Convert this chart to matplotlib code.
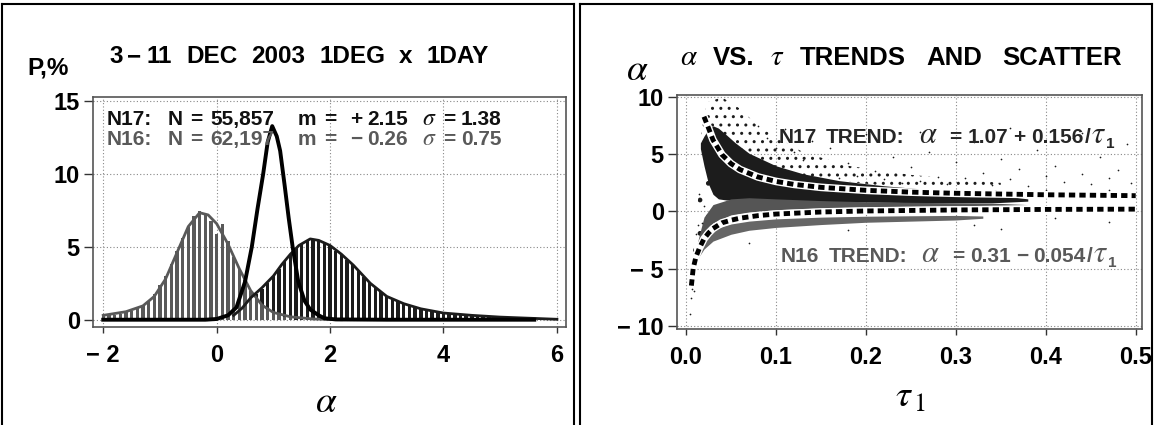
import numpy as np
import matplotlib.pyplot as plt
from matplotlib.lines import Line2D

plt.rcParams['font.family'] = 'Liberation Sans'
plt.rcParams['mathtext.fontset'] = 'stix'
plt.rcParams['hatch.linewidth'] = 1.0

W, H = 1154, 425

# ---- left panel: histograms of alpha ----
n17_centers = np.round(np.arange(0.5, 5.51, 0.1), 2)
n17_bars = [0.6, 1.3, 1.8, 2.1, 2.5, 3.0, 3.5, 4.0, 4.5, 4.9, 5.2, 5.45, 5.5, 5.45, 5.3,
            5.05, 4.75, 4.45, 4.1, 3.75, 3.35, 2.95, 2.5, 2.2, 1.9, 1.65, 1.45, 1.25, 1.1,
            0.98, 0.85, 0.75, 0.66, 0.58, 0.51, 0.46, 0.42, 0.38, 0.34, 0.31, 0.29, 0.26,
            0.24, 0.22, 0.2, 0.18, 0.16, 0.14, 0.12, 0.11, 0.1]
n16_centers = np.round(np.arange(-2.0, 1.31, 0.1), 2)
n16_bars = [0.25, 0.3, 0.35, 0.4, 0.5, 0.6, 0.8, 1.0, 1.3, 1.8, 2.4, 3.0, 3.8, 4.7, 5.6,
            6.4, 7.1, 7.5, 7.2, 6.8, 5.9, 6.6, 5.4, 4.3, 3.5, 2.7, 2.0, 1.5, 1.0, 0.7, 0.5,
            0.3, 0.2, 0.1]

n17_curve_x = [0.3, 0.45, 0.6, 0.8, 1.0, 1.15, 1.3, 1.45, 1.65, 1.8, 2.0, 2.2, 2.41, 2.71,
               3.0, 3.3, 3.6, 4.0, 4.5, 5.0, 5.6, 6.0]
n17_curve_y = [0.3, 0.8, 1.5, 2.2, 3.0, 3.8, 4.5, 5.1, 5.55, 5.45, 5.1, 4.5, 3.75, 2.5,
               1.6, 1.1, 0.75, 0.46, 0.3, 0.18, 0.09, 0.03]
n16_curve_x = [-2.0, -1.6, -1.3, -1.1, -0.9, -0.7, -0.5, -0.3, -0.15, 0.0, 0.2, 0.4, 0.6,
               0.8, 1.0, 1.3, 1.7, 2.2]
n16_curve_y = [0.3, 0.55, 0.95, 1.6, 2.8, 4.6, 6.4, 7.35, 7.2, 6.6, 5.2, 3.5, 2.0, 1.0,
               0.5, 0.2, 0.05, 0.0]
diff_curve_x = [-2.0, -1.0, -0.2, 0.0, 0.2, 0.35, 0.5, 0.62, 0.72, 0.82, 0.9, 0.98, 1.06,
                1.12, 1.2, 1.27, 1.34, 1.44, 1.55, 1.65, 1.8, 1.9, 2.1, 3.0, 4.0, 5.0, 5.6]
diff_curve_y = [0.0, 0.0, 0.0, 0.05, 0.3, 0.85, 2.6, 5.0, 7.6, 10.0, 12.2, 13.3, 12.6,
                11.6, 9.2, 7.0, 5.0, 2.6, 1.3, 0.7, 0.3, 0.1, 0.02, 0.0, 0.0, 0.0, 0.0]

left_xticks = [-2, 0, 2, 4, 6]
left_xlabels = ['\u2212 2', '0', '2', '4', '6']
left_yticks = [0, 5, 10, 15]

# ---- right panel: alpha vs tau ----
tr17_tau = [0.02, 0.025, 0.03, 0.04, 0.05, 0.06, 0.08, 0.1, 0.12, 0.15, 0.2, 0.25, 0.3, 0.4, 0.5]
tr17_alpha = [8.3, 7.31, 6.27, 4.97, 4.19, 3.67, 3.02, 2.63, 2.37, 2.11, 1.85, 1.69, 1.59, 1.46, 1.38]
tr16_tau = [0.006, 0.008, 0.011, 0.015, 0.02, 0.025, 0.03, 0.04, 0.05, 0.06, 0.08, 0.1, 0.15, 0.2, 0.3, 0.4, 0.5]
tr16_alpha = [-6.5, -5.0, -4.0, -3.2, -2.4, -1.9, -1.5, -1.0, -0.77, -0.59, -0.37, -0.23, -0.05, 0.04, 0.13, 0.175, 0.2]

# dense N17 cloud (dark)
d_tau = [0.016, 0.02, 0.025, 0.03, 0.036, 0.045, 0.055, 0.07, 0.1, 0.13, 0.17, 0.22, 0.28, 0.34, 0.38]
d_low = [5.5, 4.0, 2.4, 1.5, 1.1, 1.0, 1.0, 1.0, 0.95, 0.9, 0.85, 0.8, 0.75, 0.75, 0.9]
d_up = [6.0, 6.6, 7.2, 7.5, 7.3, 6.7, 6.0, 5.1, 4.0, 3.3, 2.7, 2.25, 1.85, 1.5, 1.1]
# N16 cloud between the two trends (gray)
g1_tau = [0.012, 0.015, 0.02, 0.03, 0.05, 0.07, 0.1, 0.15, 0.2, 0.25, 0.3, 0.35, 0.38]
g1_low = [-3.2, -2.6, -1.8, -1.0, -0.3, -0.05, 0.15, 0.3, 0.4, 0.45, 0.5, 0.55, 0.6]
g1_up = [-3.0, -2.0, -0.5, 0.6, 1.1, 1.2, 1.1, 0.95, 0.85, 0.8, 0.75, 0.7, 0.6]
# N16 cloud below its trend (gray)
g2_tau = [0.008, 0.012, 0.015, 0.02, 0.03, 0.05, 0.07, 0.1, 0.15, 0.2, 0.25, 0.3, 0.33]
g2_up = [-5.5, -3.6, -2.9, -2.3, -1.6, -1.1, -0.85, -0.65, -0.5, -0.42, -0.38, -0.35, -0.4]
g2_low = [-5.5, -4.4, -3.9, -3.3, -2.6, -2.0, -1.65, -1.4, -1.15, -0.95, -0.85, -0.75, -0.6]
# sparse halo above the dense cloud
s_tau = [0.017, 0.025, 0.04, 0.06, 0.08, 0.1, 0.13, 0.18, 0.25, 0.35]
s_low = [6.0, 6.5, 6.8, 5.6, 4.6, 3.9, 3.2, 2.6, 2.0, 1.5]
s_up = [8.0, 9.6, 10.0, 9.0, 7.5, 6.5, 5.2, 4.0, 3.2, 2.5]
# sparse spread at the smallest tau
e_tau = [0.006, 0.01, 0.015, 0.02, 0.028]
e_low = [-7.0, -4.5, -3.0, -1.5, 0.5]
e_up = [-6.0, -1.0, 2.0, 4.5, 5.0]

# scattered single points
pt_tau = [0.16, 0.18, 0.19, 0.21, 0.22, 0.23, 0.24, 0.25, 0.26, 0.27, 0.28, 0.29, 0.30,
          0.31, 0.32, 0.33, 0.34, 0.35, 0.36, 0.37, 0.38, 0.39, 0.40, 0.41, 0.42, 0.43,
          0.44, 0.45, 0.46, 0.47, 0.48, 0.49, 0.495, 0.17, 0.20, 0.26, 0.36, 0.44, 0.30,
          0.33, 0.40, 0.47, 0.12, 0.13, 0.14, 0.10, 0.11, 0.08, 0.09, 0.07, 0.18, 0.32,
          0.41, 0.35, 0.47, 0.005, 0.006, 0.007, 0.008, 0.009, 0.010, 0.012, 0.014,
          0.016, 0.011, 0.013, 0.018, 0.02, 0.015, 0.009]
pt_alpha = [5.6, 4.2, 3.1, 3.5, 2.8, 4.8, 2.5, 3.9, 2.7, 5.2, 3.0, 2.4, 4.3, 2.9, 6.1,
            3.4, 2.3, 4.6, 2.8, 3.7, 2.2, 5.4, 3.1, 4.0, 2.6, 6.4, 3.3, 2.4, 4.8, 2.9,
            3.6, 5.9, 2.5, 2.9, 6.8, 7.0, 7.3, 6.9, 1.9, 1.8, 1.9, 1.85, 5.2, 4.5, 6.2,
            5.6, 7.2, 7.5, 6.4, -2.8, -1.6, -1.2, -0.6, -1.5, -0.9, -9.0, -7.6, -6.8,
            -5.6, -5.0, -4.4, -3.6, -3.1, -2.6, -2.0, -1.2, -1.0, 0.5, 1.5, -7.0]

right_xticks = [0.0, 0.1, 0.2, 0.3, 0.4, 0.5]
right_xlabels = ['0.0', '0.1', '0.2', '0.3', '0.4', '0.5']
right_yticks = [-10, -5, 0, 5, 10]
right_ylabels = ['\u2212 10', '\u2212 5', '0', '5', '10']

DARK = '#1c1c1c'
GRAY = '#595959'


def fx(x):
    return x / W


def fy(y):
    return 1 - y / H


def style_axes(ax):
    for s in ax.spines.values():
        s.set_color('#555555')
        s.set_linewidth(1.2)
    ax.tick_params(axis='y', length=6.5, width=1, color='#333333', labelsize=17, pad=3)
    ax.tick_params(axis='x', length=4, width=1, color='#333333', labelsize=17, pad=8)
    ax.grid(True, linestyle=(0, (1, 2)), color='#888888', linewidth=0.8)
    ax.set_axisbelow(True)
    for lab in ax.get_xticklabels() + ax.get_yticklabels():
        lab.set_fontweight('bold')


fig = plt.figure(figsize=(W / 100, H / 100), dpi=100)
renderer = fig.canvas.get_renderer()


def rich(x, y, parts):
    # mixed-font text, left to right, baseline at pixel y; each part: (text, props, gap, dy)
    for s, kw, gap, dy in parts:
        t = fig.text(fx(x), fy(y + dy), s, ha='left', va='baseline', zorder=10, **kw)
        x += t.get_window_extent(renderer).width + gap
    return x


# panel frames
for seg in [((2, 574), (4, 4)), ((2, 2), (4, 425)), ((574, 574), (4, 425)),
            ((580, 1152), (4, 4)), ((580, 580), (4, 425)), ((1152, 1152), (4, 425))]:
    fig.add_artist(Line2D([fx(seg[0][0]), fx(seg[0][1])], [fy(seg[1][0]), fy(seg[1][1])],
                          color='black', lw=1.5))

# ---------- left ----------
ax1 = fig.add_axes([fx(93), fy(327), fx(566 - 93), (327 - 97) / H])
ax1.bar(n17_centers, n17_bars, width=0.06, color=DARK, zorder=2)
ax1.bar(n16_centers, n16_bars, width=0.06, color=GRAY, zorder=2)
ax1.plot(n16_curve_x, n16_curve_y, color=GRAY, lw=2, zorder=3)
ax1.plot(n17_curve_x, n17_curve_y, color=DARK, lw=2, zorder=3)
ax1.plot(diff_curve_x, diff_curve_y, color='black', lw=2.8, zorder=4)
ax1.set_xlim(-2.18, 6.16)
ax1.set_ylim(-0.5, 15.3)
ax1.set_xticks(left_xticks)
ax1.set_xticklabels(left_xlabels)
ax1.set_yticks(left_yticks)
style_axes(ax1)

B = dict(fontsize=17.5, fontweight='bold')
rich(109, 63, [('3', B, 5, 0), ('\u2212', B, 5, 0), ('11', B, 14, 0), ('DEC', B, 14, 0),
               ('2003', B, 14, 0), ('1DEG', B, 14, 0), ('x', B, 14, 0), ('1DAY', B, 0, 0)])
rich(27, 75, [('P,%', dict(fontsize=17.5, fontweight='bold'), 0, 0)])

L = dict(fontsize=15, fontweight='bold', color='#111111')
G = dict(fontsize=15, fontweight='bold', color=GRAY)
rich(107, 125, [('N17:', L, 15, 0), ('N', L, 8, 0), ('=', L, 8, 0), ('55,857', L, 23, 0),
                ('m', L, 8, 0), ('=', L, 14, 0), ('+', L, 5, 0), ('2.15', L, 14, 0),
                ('$\\sigma$', dict(fontsize=17, color='#111111'), 6, 0),
                ('=', L, 6, 0), ('1.38', L, 0, 0)])
rich(107, 145, [('N16:', G, 15, 0), ('N', G, 8, 0), ('=', G, 8, 0), ('62,197', G, 23, 0),
                ('m', G, 8, 0), ('=', G, 14, 0), ('\u2212', G, 5, 0), ('0.26', G, 14, 0),
                ('$\\sigma$', dict(fontsize=17, color=GRAY), 6, 0),
                ('=', G, 6, 0), ('0.75', G, 0, 0)])
fig.text(fx(326), fy(402), '$\\alpha$', ha='center', va='center', fontsize=27)

# ---------- right ----------
ax2 = fig.add_axes([fx(677), fy(329), fx(1142 - 677), (329 - 95) / H])
ax2.fill_between(s_tau, s_low, s_up, facecolor='none', edgecolor=DARK, hatch='..',
                 linewidth=0, zorder=2)
ax2.fill_between(e_tau, e_low, e_up, facecolor='none', edgecolor=DARK, hatch='.',
                 linewidth=0, zorder=2)
ax2.fill_between(d_tau, d_low, d_up, color=DARK, linewidth=0, zorder=2)
ax2.fill_between(g1_tau, g1_low, g1_up, color='#555555', linewidth=0, zorder=3)
ax2.fill_between(g2_tau, g2_low, g2_up, color='#666666', linewidth=0, zorder=3)
ax2.scatter(pt_tau, pt_alpha, s=1.5, color=DARK, linewidths=0, zorder=3)
for tt, aa in [(tr17_tau, tr17_alpha), (tr16_tau, tr16_alpha)]:
    ax2.plot(tt, aa, color='white', lw=5.5, zorder=4, solid_capstyle='butt')
    ax2.plot(tt, aa, color='black', lw=3.5, zorder=5, dashes=(1.3, 0.85))
ax2.set_xlim(-0.01, 0.507)
ax2.set_ylim(-10.3, 10.2)
ax2.set_xticks(right_xticks)
ax2.set_xticklabels(right_xlabels)
ax2.set_yticks(right_yticks)
ax2.set_yticklabels(right_ylabels)
style_axes(ax2)

TB = dict(fontsize=18.5, fontweight='bold')
M = dict(fontsize=21)
rich(680, 65, [('$\\alpha$', M, 15, 0), ('VS.', TB, 15, 0), ('$\\tau$', M, 16, 0),
               ('TRENDS', TB, 20, 0), ('AND', TB, 20, 0), ('SCATTER', TB, 0, 0)])
fig.text(fx(637), fy(70), '$\\alpha$', ha='center', va='center', fontsize=27)

T17 = dict(fontsize=15, fontweight='bold', color='#262626')
T16 = dict(fontsize=15, fontweight='bold', color=GRAY)
M17 = dict(fontsize=22, color='#262626')
M16 = dict(fontsize=22, color=GRAY)
rich(779, 143, [('N17', T17, 9, 0), ('TREND:', T17, 14, 0), ('$\\alpha$', M17, 12, 0),
                ('=', T17, 6, 0), ('1.07', T17, 5, 0), ('+', T17, 5, 0), ('0.156', T17, 2, 0),
                ('/', T17, 0, 0), ('$\\tau$', M17, 0, 0),
                ('1', dict(fontsize=11, fontweight='bold', color='#262626'), 0, 5)])
rich(781, 262, [('N16', T16, 9, 0), ('TREND:', T16, 14, 0), ('$\\alpha$', M16, 12, 0),
                ('=', T16, 6, 0), ('0.31', T16, 5, 0), ('\u2212', T16, 5, 0), ('0.054', T16, 2, 0),
                ('/', T16, 0, 0), ('$\\tau$', M16, 0, 0),
                ('1', dict(fontsize=11, fontweight='bold', color=GRAY), 0, 5)])
fig.text(fx(910), fy(397), '$\\tau_{\\,1}$', ha='center', va='center', fontsize=27)

fig.savefig('out.png', dpi=100)
